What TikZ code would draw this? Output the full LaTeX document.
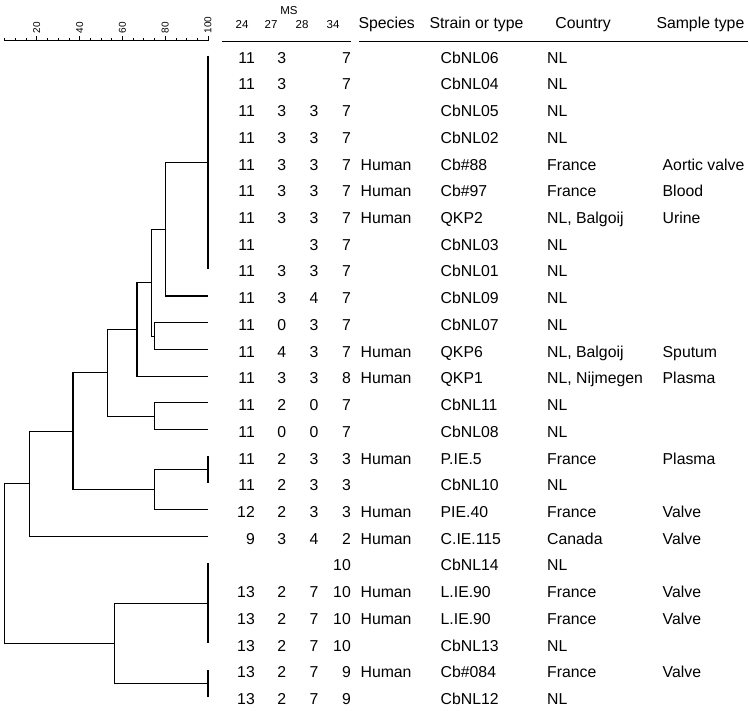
\documentclass[tikz,border=0pt]{standalone}
\usepackage{fontspec}
\setmainfont{Liberation Sans}
\begin{document}
\begin{tikzpicture}[x=1pt,y=-1pt,
  cell/.style={inner sep=0pt,font=\fontsize{15.8}{19}\selectfont},
  small/.style={inner sep=0pt,font=\fontsize{11.5}{13}\selectfont},
  scalelab/.style={inner sep=0pt,font=\fontsize{10}{11}\selectfont,rotate=90,anchor=west},
  tree/.style={line width=1.1pt}]

\useasboundingbox (0,0) rectangle (750,710);

% similarity scale
\begin{scope}[xshift=-6pt,x=2.14pt]
\draw[line width=0.7pt] (5,40.5) -- (100,40.5);
\foreach \u in {5,10,...,100}{
\draw[line width=0.7pt] (\u,40.5) -- (\u,37.5);}
\foreach \u in {20,40,...,100}{
\draw[line width=0.7pt] (\u,40.5) -- (\u,36);
\node[scalelab] (s\u) at (\u,33.5) {\u};}
\end{scope}

% header
\node[small,anchor=base] (ms) at (289,14) {MS};
\foreach \x/\m in {242/24,271/27,302/28,333/34}
\node[small,anchor=base] (h\m) at (\x,28.4) {\m};
\node[cell,anchor=base west] (hsp) at (358.3,28.4) {Species};
\node[cell,anchor=base west] (hst) at (429.3,28.4) {Strain or type};
\node[cell,anchor=base west] (hco) at (555.2,28.4) {Country};
\node[cell,anchor=base west] (hsa) at (656.3,28.4) {Sample type};
\draw[line width=0.9pt] (222,41.7) -- (351,41.7);
\draw[line width=0.9pt] (359,41.7) -- (748,41.7);

% table rows
\foreach \i/\a/\b/\c/\d/\sp/\st/\co/\sa in {
1/11/3//7//CbNL06/NL/,
2/11/3//7//CbNL04/NL/,
3/11/3/3/7//CbNL05/NL/,
4/11/3/3/7//CbNL02/NL/,
5/11/3/3/7/Human/Cb\#88/France/Aortic valve,
6/11/3/3/7/Human/Cb\#97/France/Blood,
7/11/3/3/7/Human/QKP2/{NL, Balgoij}/Urine,
8/11//3/7//CbNL03/NL/,
9/11/3/3/7//CbNL01/NL/,
10/11/3/4/7//CbNL09/NL/,
11/11/0/3/7//CbNL07/NL/,
12/11/4/3/7/Human/QKP6/{NL, Balgoij}/Sputum,
13/11/3/3/8/Human/QKP1/{NL, Nijmegen}/Plasma,
14/11/2/0/7//CbNL11/NL/,
15/11/0/0/7//CbNL08/NL/,
16/11/2/3/3/Human/P.IE.5/France/Plasma,
17/11/2/3/3//CbNL10/NL/,
18/12/2/3/3/Human/PIE.40/France/Valve,
19/9/3/4/2/Human/C.IE.115/Canada/Valve,
20////10//CbNL14/NL/,
21/13/2/7/10/Human/L.IE.90/France/Valve,
22/13/2/7/10/Human/L.IE.90/France/Valve,
23/13/2/7/10//CbNL13/NL/,
24/13/2/7/9/Human/Cb\#084/France/Valve,
25/13/2/7/9//CbNL12/NL/}{
\node[cell,anchor=base east] (a\i) at (255,{36.5+26.72*\i}) {\a};
\node[cell,anchor=base] (b\i) at (281.7,{36.5+26.72*\i}) {\b};
\node[cell,anchor=base] (c\i) at (314,{36.5+26.72*\i}) {\c};
\node[cell,anchor=base east] (d\i) at (351,{36.5+26.72*\i}) {\d};
\node[cell,anchor=base west] (sp\i) at (360.4,{36.5+26.72*\i}) {\sp};
\node[cell,anchor=base west] (st\i) at (440.5,{36.5+26.72*\i}) {\st};
\node[cell,anchor=base west] (co\i) at (547,{36.5+26.72*\i}) {\co};
\node[cell,anchor=base west] (sa\i) at (662.5,{36.5+26.72*\i}) {\sa};
}

% dendrogram
\begin{scope}[xshift=-6pt,x=2.14pt,yshift=-28.78pt,y=-26.72pt]
\foreach \i in {1,...,25}
\coordinate (leaf\i) at (100,\i);
\coordinate (k1) at (100,5);
\coordinate (a80) at (80,7.5);
\coordinate (b75) at (75,11.5);
\coordinate (c74) at (73.7,9.5);
\coordinate (d67) at (66.8,11.25);
\coordinate (e75) at (75,14.5);
\coordinate (f53) at (53,12.875);
\coordinate (g100) at (100,16.5);
\coordinate (h75) at (75,17.25);
\coordinate (i37) at (36.9,15.0625);
\coordinate (j17) at (16.5,17.03125);
\coordinate (k100) at (100,21.5);
\coordinate (l100) at (100,24.5);
\coordinate (m57) at (56.5,23);
\coordinate (root) at (4.8,20.015625);

\draw[tree] (leaf1) -- (leaf9);
\draw[tree] (k1) -| (a80) |- (leaf10);
\draw[tree] (leaf11) -| (b75) |- (leaf12);
\draw[tree] (a80) -| (c74) |- (b75);
\draw[tree] (c74) -| (d67) |- (leaf13);
\draw[tree] (leaf14) -| (e75) |- (leaf15);
\draw[tree] (d67) -| (f53) |- (e75);
\draw[tree] (leaf16) -- (leaf17);
\draw[tree] (g100) -| (h75) |- (leaf18);
\draw[tree] (f53) -| (i37) |- (h75);
\draw[tree] (i37) -| (j17) |- (leaf19);
\draw[tree] (leaf20) -- (leaf23);
\draw[tree] (leaf24) -- (leaf25);
\draw[tree] (k100) -| (m57) |- (l100);
\draw[tree] (j17) -| (root) |- (m57);
\end{scope}

\end{tikzpicture}
\end{document}
